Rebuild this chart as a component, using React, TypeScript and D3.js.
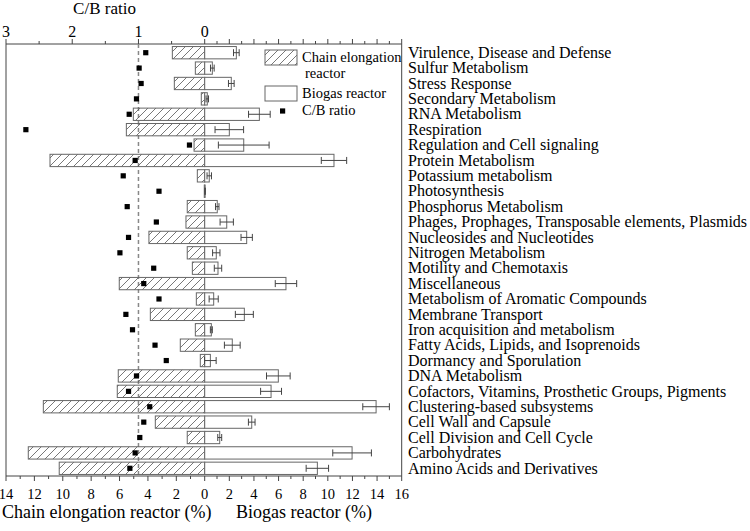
import React from "react";
import * as d3 from "d3";

const categories = [
  "Virulence, Disease and Defense",
  "Sulfur Metabolism",
  "Stress Response",
  "Secondary Metabolism",
  "RNA Metabolism",
  "Respiration",
  "Regulation and Cell signaling",
  "Protein Metabolism",
  "Potassium metabolism",
  "Photosynthesis",
  "Phosphorus Metabolism",
  "Phages, Prophages, Transposable elements, Plasmids",
  "Nucleosides and Nucleotides",
  "Nitrogen Metabolism",
  "Motility and Chemotaxis",
  "Miscellaneous",
  "Metabolism of Aromatic Compounds",
  "Membrane Transport",
  "Iron acquisition and metabolism",
  "Fatty Acids, Lipids, and Isoprenoids",
  "Dormancy and Sporulation",
  "DNA Metabolism",
  "Cofactors, Vitamins, Prosthetic Groups, Pigments",
  "Clustering-based subsystems",
  "Cell Wall and Capsule",
  "Cell Division and Cell Cycle",
  "Carbohydrates",
  "Amino Acids and Derivatives",
];

const chainElongation = [2.28, 0.66, 2.14, 0.24, 5.03, 5.52, 0.75, 10.9, 0.52, 0.03, 1.23, 1.32, 3.93, 1.23, 0.87, 6.02, 0.59, 3.83, 0.66, 1.72, 0.31, 6.09, 6.16, 11.37, 3.48, 1.23, 12.43, 10.25];
const biogas = [2.57, 0.62, 2.16, 0.21, 4.44, 2.0, 3.17, 10.5, 0.37, 0.03, 1.02, 1.79, 3.41, 0.94, 1.08, 6.6, 0.73, 3.22, 0.54, 2.24, 0.46, 5.98, 5.39, 13.92, 3.82, 1.22, 11.97, 9.15];
const biogasErr = [0.23, 0.15, 0.23, 0.1, 0.88, 1.16, 2.06, 1.03, 0.18, 0.02, 0.14, 0.54, 0.46, 0.3, 0.3, 0.87, 0.37, 0.73, 0.08, 0.64, 0.47, 0.96, 0.85, 1.08, 0.27, 0.16, 1.57, 0.91];
const cbRatio = [0.89, 0.99, 0.96, 1.03, 1.14, 2.7, 0.23, 1.05, 1.23, 0.69, 1.17, 0.73, 1.15, 1.28, 0.77, 0.92, 0.69, 1.19, 1.09, 0.75, 0.58, 1.03, 1.15, 0.83, 0.92, 0.98, 1.05, 1.13];

const leftTicks = [14, 12, 10, 8, 6, 4, 2];
const rightTicks = [0, 2, 4, 6, 8, 10, 12, 14, 16];
const ratioTicks = [3, 2, 1, 0];

const FONT = '"Liberation Serif", "Times New Roman", Times, serif';

export default function App() {
  const W = 750, H = 531;
  const x0 = 204.7, xLeft = 6, xRight = 401.7;
  const yTop = 44, yBot = 476;
  const xL = d3.scaleLinear().domain([0, 14]).range([x0, xLeft]);
  const xR = d3.scaleLinear().domain([0, 16]).range([x0, xRight]);
  const xCB = d3.scaleLinear().domain([0, 3]).range([x0, xLeft]);
  const y = d3.scaleBand<string>().domain(categories).range([yTop + 1, yBot]).paddingInner(0.2).paddingOuter(0.1);
  const bw = y.bandwidth();
  const stroke = "#666";
  const ts = { fontFamily: FONT };

  const leftMinor = d3.range(1, 15);
  const rightMinor = d3.range(1, 17);
  const ratioMinor = [0.5, 1.5, 2.5];

  return (
    <div style={{ position: "absolute", left: 0, top: 0 }}>
      <svg width={W} height={H} style={{ display: "block", background: "#fff", fontFamily: FONT }}>
        <defs>
          <pattern id="hatch" patternUnits="userSpaceOnUse" width={8} height={8}>
            <line x1={-2} y1={10} x2={10} y2={-2} stroke="#555" strokeWidth={0.8} />
            <line x1={-2} y1={2} x2={2} y2={-2} stroke="#555" strokeWidth={0.8} />
            <line x1={6} y1={10} x2={10} y2={6} stroke="#555" strokeWidth={0.8} />
          </pattern>
        </defs>

        {/* frame */}
        <line x1={xLeft} x2={xRight} y1={yTop} y2={yTop} stroke="#444" />
        <line x1={xLeft} x2={xRight} y1={yBot} y2={yBot} stroke="#444" />
        <line x1={xLeft} x2={xLeft} y1={yTop} y2={yBot} stroke="#444" />
        <line x1={xRight} x2={xRight} y1={yTop} y2={yBot} stroke="#444" />

        {/* top axis ticks: C/B ratio */}
        {ratioTicks.map((t) => (
          <g key={"rt" + t}>
            <line x1={xCB(t)} x2={xCB(t)} y1={yTop} y2={yTop - 5} stroke="#444" />
            <text x={xCB(t)} y={36.5} fontSize={16} textAnchor="middle" style={ts}>{t}</text>
          </g>
        ))}
        {ratioMinor.map((t) => (
          <line key={"rm" + t} x1={xCB(t)} x2={xCB(t)} y1={yTop} y2={yTop - 3} stroke="#444" />
        ))}
        {rightMinor.map((t) => (
          <line key={"trm" + t} x1={xR(t)} x2={xR(t)} y1={yTop} y2={yTop - (t % 2 === 0 ? 5 : 3)} stroke="#444" />
        ))}
        <text x={104.5} y={14} fontSize={17} textAnchor="middle" style={ts}>C/B ratio</text>

        {/* bottom axis ticks */}
        {leftMinor.map((t) => (
          <line key={"bl" + t} x1={xL(t)} x2={xL(t)} y1={yBot} y2={yBot + (t % 2 === 0 ? 5 : 3)} stroke="#444" />
        ))}
        {rightMinor.map((t) => (
          <line key={"br" + t} x1={xR(t)} x2={xR(t)} y1={yBot} y2={yBot + (t % 2 === 0 ? 5 : 3)} stroke="#444" />
        ))}
        <line x1={x0} x2={x0} y1={yBot} y2={yBot + 5} stroke="#444" />
        {leftTicks.map((t) => (
          <text key={"lt" + t} x={xL(t)} y={499} fontSize={14.5} textAnchor="middle" style={ts}>{t}</text>
        ))}
        {rightTicks.map((t) => (
          <text key={"rtk" + t} x={xR(t)} y={499} fontSize={14.5} textAnchor="middle" style={ts}>{t}</text>
        ))}
        <text x={2} y={518} fontSize={18} style={ts}>Chain elongation reactor (%)</text>
        <text x={236} y={518} fontSize={18} style={ts}>Biogas reactor (%)</text>

        {/* dashed ratio = 1 line */}
        <line x1={xCB(1)} x2={xCB(1)} y1={yTop} y2={yBot} stroke="#888" strokeWidth={1.5} strokeDasharray="4,3" />

        {/* bars */}
        {categories.map((c, i) => {
          const yy = y(c)!;
          const cy = yy + bw / 2;
          const bv = biogas[i];
          const e = biogasErr[i];
          return (
            <g key={c}>
              <rect x={xL(chainElongation[i])} y={yy} width={x0 - xL(chainElongation[i])} height={bw} fill="url(#hatch)" stroke={stroke} strokeWidth={1} />
              <rect x={x0} y={yy} width={xR(bv) - x0} height={bw} fill="#fff" stroke={stroke} strokeWidth={1} />
              <line x1={xR(bv - e)} x2={xR(bv + e)} y1={cy} y2={cy} stroke="#444" />
              <line x1={xR(bv - e)} x2={xR(bv - e)} y1={cy - 3.5} y2={cy + 3.5} stroke="#444" />
              <line x1={xR(bv + e)} x2={xR(bv + e)} y1={cy - 3.5} y2={cy + 3.5} stroke="#444" />
              <text x={408} y={cy + 5.2} fontSize={16} style={ts}>{c}</text>
            </g>
          );
        })}

        {/* C/B ratio markers */}
        {categories.map((c, i) => {
          const cy = y(c)! + bw / 2;
          return <rect key={"cb" + c} x={xCB(cbRatio[i]) - 2.6} y={cy - 2.6} width={5.2} height={5.2} fill="#000" />;
        })}

        {/* legend */}
        <rect x={265} y={50} width={32} height={15} fill="url(#hatch)" stroke={stroke} />
        <text x={302} y={62} fontSize={14.5} style={ts}>Chain elongation</text>
        <text x={305} y={78} fontSize={14.5} style={ts}>reactor</text>
        <rect x={265} y={86} width={32} height={15} fill="#fff" stroke={stroke} />
        <text x={302} y={98} fontSize={14.5} style={ts}>Biogas reactor</text>
        <rect x={280} y={108.4} width={5.2} height={5.2} fill="#000" />
        <text x={302} y={115} fontSize={14.5} style={ts}>C/B ratio</text>
      </svg>
    </div>
  );
}
